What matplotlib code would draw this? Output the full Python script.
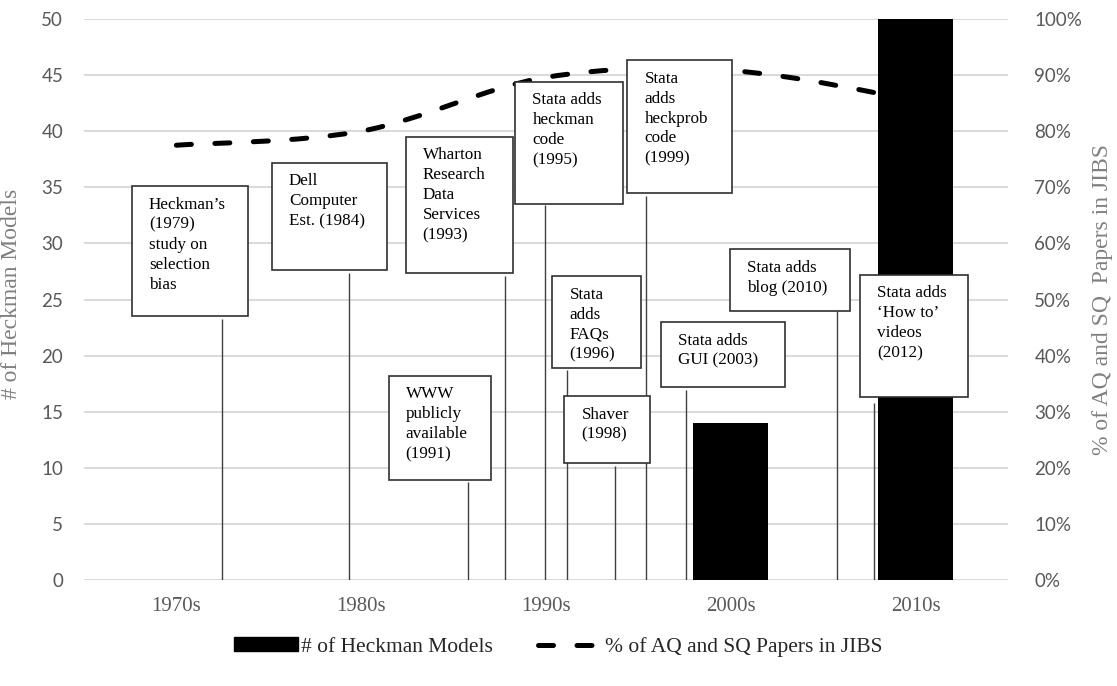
import matplotlib
matplotlib.use("Agg")
import matplotlib.pyplot as plt
from matplotlib.path import Path
from matplotlib.patches import PathPatch, Rectangle, Patch
from matplotlib.lines import Line2D
import numpy as np

# ---------------- data ----------------
decades = ["1970s", "1980s", "1990s", "2000s", "2010s"]
heckman_models = [0, 0, 0, 14, 50]
pct_aq_sq = [77.5, 80.0, 89.6, 90.8, 85.5]
left_ticks = list(range(0, 51, 5))
right_ticks = list(range(0, 101, 10))

event_texts = [
    "Heckman\u2019s\n(1979)\nstudy on\nselection\nbias",
    "Dell\nComputer\nEst. (1984)",
    "Wharton\nResearch\nData\nServices\n(1993)",
    "Stata adds\nheckman\ncode\n(1995)",
    "Stata\nadds\nheckprob\ncode\n(1999)",
    "WWW\npublicly\navailable\n(1991)",
    "Stata\nadds\nFAQs\n(1996)",
    "Shaver\n(1998)",
    "Stata adds\nGUI (2003)",
    "Stata adds\nblog (2010)",
    "Stata adds\n\u2018How to\u2019\nvideos\n(2012)",
]
# box layout: (x0, x1, y_top, y_bottom) in data units; leader line (x, y_start)
event_boxes = [
    (-0.241, 0.386, 35.1, 23.5),
    (0.516, 1.138, 37.2, 27.6),
    (1.241, 1.824, 39.5, 27.4),
    (1.835, 2.419, 44.4, 33.5),
    (2.441, 3.008, 46.35, 34.5),
    (1.149, 1.700, 18.2, 8.9),
    (2.035, 2.516, 27.1, 18.9),
    (2.100, 2.565, 16.4, 10.4),
    (2.624, 3.295, 23.0, 17.2),
    (2.997, 3.646, 29.5, 24.0),
    (3.700, 4.284, 27.2, 16.3),
]
event_lines = [
    (0.246, 23.3),
    (0.932, 27.4),
    (1.776, 27.1),
    (1.997, 33.4),
    (2.543, 34.2),
    (1.576, 8.7),
    (2.116, 18.7),
    (2.376, 10.2),
    (2.759, 16.9),
    (3.576, 24.0),
    (3.773, 15.8),
]

SERIF = "Liberation Serif"
SANS = "Lato"
GRAY = "#595959"
LGRAY = "#808080"
DASH = (0, (3, 4.7))

fig = plt.figure(figsize=(11.17, 6.86), dpi=100)
ax = fig.add_axes([0.0752, 0.1545, 0.8272, 0.8178])
ax2 = ax.twinx()
ax.set_zorder(ax2.get_zorder() + 1)
ax.patch.set_visible(False)

x = np.arange(len(decades))

# grid on ax2 (bottom layer)
ax2.set_ylim(0, 100)
ax2.set_yticks(right_ticks)
ax2.set_yticklabels([f"{t}%" for t in right_ticks])
ax2.grid(axis="y", color="#d9d9d9", linewidth=1.4, zorder=0)
ax2.set_axisbelow(True)

# smooth dashed line (Excel-like Bezier smoothing)
pts = np.column_stack([x, pct_aq_sq]).astype(float)
verts = [tuple(pts[0])]
codes = [Path.MOVETO]
n = len(pts)
for i in range(n - 1):
    p0 = pts[i - 1] if i > 0 else pts[i]
    p1 = pts[i]
    p2 = pts[i + 1]
    p3 = pts[i + 2] if i + 2 < n else pts[i + 1]
    c1 = p1 + (p2 - p0) / 6.0
    c2 = p2 - (p3 - p1) / 6.0
    verts += [tuple(c1), tuple(c2), tuple(p2)]
    codes += [Path.CURVE4] * 3
line_patch = PathPatch(Path(verts, codes), fill=False, edgecolor="black",
                       linewidth=3.6, linestyle=DASH, capstyle="round",
                       zorder=3)
ax2.add_patch(line_patch)

# bars
ax.bar(x, heckman_models, width=0.405, color="black", zorder=2)
ax.set_xlim(-0.5, 4.5)
ax.set_ylim(0, 50)
ax.set_yticks(left_ticks)
ax.set_xticks(x)
ax.set_xticklabels(decades)

# annotations
for txt, (bx0, bx1, bt, bb), (lx, ly) in zip(event_texts, event_boxes, event_lines):
    ax.plot([lx, lx], [ly, 0], color="#404040", linewidth=1.0, zorder=4,
            solid_capstyle="butt")
    ax.add_patch(Rectangle((bx0, bb), bx1 - bx0, bt - bb, facecolor="white",
                           edgecolor="#303030", linewidth=1.2, zorder=5))
    ax.text(bx0 + 0.092, bt - 0.95, txt, ha="left", va="top", fontsize=12.3,
            family=SERIF, color="black", linespacing=1.33, zorder=6)

for a in (ax, ax2):
    for s in a.spines.values():
        s.set_visible(False)
    a.tick_params(length=0)

ax.tick_params(axis="y", pad=15, labelsize=13.5, labelcolor=GRAY)
ax2.tick_params(axis="y", pad=19, labelsize=13.5, labelcolor=GRAY)
for lab in ax.get_yticklabels() + ax2.get_yticklabels():
    lab.set_family(SANS)
ax.tick_params(axis="x", pad=12, labelsize=15, labelcolor=GRAY)
for lab in ax.get_xticklabels():
    lab.set_family(SERIF)

ax.set_ylabel("# of Heckman Models", family=SERIF, fontsize=17, color=LGRAY)
ax.yaxis.set_label_coords(-0.067, 0.51)
ax2.set_ylabel("% of AQ and SQ  Papers in JIBS", family=SERIF, fontsize=17,
               color=LGRAY, rotation=90)
ax2.yaxis.set_label_coords(1.091, 0.50)

handles = [Patch(facecolor="black", edgecolor="black"),
           Line2D([0], [0], color="black", linewidth=3.6, linestyle=DASH,
                  dash_capstyle="round")]
fig.legend(handles, ["# of Heckman Models", "% of AQ and SQ Papers in JIBS"],
           loc="center", bbox_to_anchor=(0.5, 0.057), ncol=2, frameon=False,
           prop={"family": SERIF, "size": 15.5}, handlelength=2.95,
           handleheight=0.6, columnspacing=2.1, handletextpad=0.15,
           labelcolor="#262626")

fig.savefig("out.png", dpi=100)
